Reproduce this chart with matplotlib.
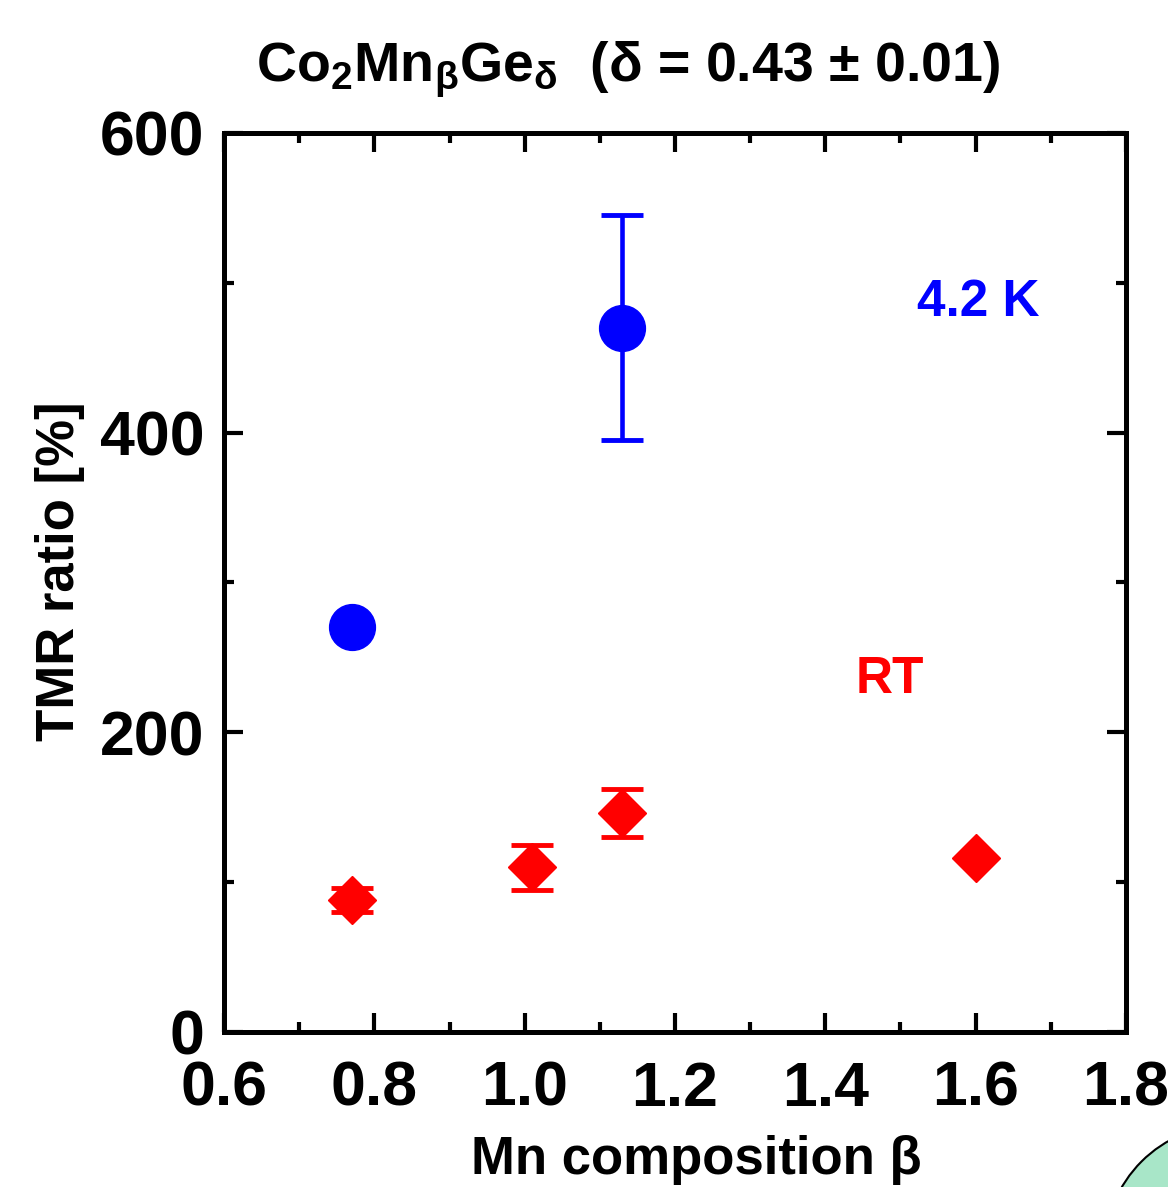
import matplotlib
matplotlib.use("Agg")
import matplotlib.pyplot as plt
from matplotlib.patches import Ellipse
from matplotlib.ticker import MultipleLocator

plt.rcParams['font.family'] = ['Liberation Sans', 'DejaVu Sans']
plt.rcParams['font.weight'] = 'bold'
plt.rcParams['mathtext.default'] = 'regular'

# Data
beta_4K = [0.77, 1.13]
tmr_4K = [270, 470]
err_4K = [0, 75]

beta_RT = [0.77, 1.01, 1.13, 1.60]
tmr_RT = [88, 110, 146, 116]
err_RT = [8, 15, 16, 0]

xticks = [0.6, 0.8, 1.0, 1.2, 1.4, 1.6, 1.8]
xticklabels = ['0.6', '0.8', '1.0', '1.2', '1.4', '1.6', '1.8']
yticks = [0, 200, 400, 600]
yticklabels = ['0', '200', '400', '600']

fig = plt.figure(figsize=(11.68, 11.87), dpi=100)
ax = fig.add_axes([0.1918, 0.1306, 0.7722, 0.7574])

ax.errorbar(beta_4K, tmr_4K, yerr=err_4K, fmt='o', color='#0000ff', ms=33,
            elinewidth=3.3, capsize=15, capthick=3.5, zorder=3)
ax.errorbar(beta_RT, tmr_RT, yerr=err_RT, fmt='D', color='#ff0000', ms=24,
            elinewidth=3.3, capsize=15, capthick=3.5, zorder=3)

ax.set_xlim(0.6, 1.8)
ax.set_ylim(0, 600)
ax.set_xticks(xticks)
ax.set_xticklabels(xticklabels)
ax.set_yticks(yticks)
ax.set_yticklabels(yticklabels)
ax.xaxis.set_minor_locator(MultipleLocator(0.1))
ax.yaxis.set_minor_locator(MultipleLocator(100))

for s in ax.spines.values():
    s.set_linewidth(3.6)
ax.tick_params(which='both', direction='in', top=True, right=True, width=3)
ax.tick_params(which='major', length=14, labelsize=45)
ax.tick_params(which='minor', length=7)
ax.tick_params(axis='y', which='major', pad=14)
ax.tick_params(axis='x', which='major', pad=20)
for lab in ax.get_xticklabels() + ax.get_yticklabels():
    lab.set_fontweight('bold')

ax.set_xlabel('Mn composition β', fontsize=38, fontweight='bold', va='center')
ax.xaxis.set_label_coords(0.524, -0.142)
ax.set_ylabel('TMR ratio [%]', fontsize=38, fontweight='bold', va='center')
ax.yaxis.set_label_coords(-0.182, 0.512)

ax.text(1.603, 487, '4.2 K', color='#0000ff', fontsize=37, fontweight='bold',
        ha='center', va='center')
ax.text(1.486, 235, 'RT', color='#ff0000', fontsize=37, fontweight='bold',
        ha='center', va='center')

fig.text(0.538, 0.941, 'Co$_2$Mn$_β$Ge$_δ$  (δ = 0.43 ± 0.01)', fontsize=40,
         fontweight='bold', ha='center', va='center')

fig.patches.append(Ellipse((1.053, -0.053), 250 / 1168, 250 / 1187,
                           transform=fig.transFigure, facecolor='#a8e6c8',
                           edgecolor='black', linewidth=1.5))

fig.savefig('out.png', dpi=100)
